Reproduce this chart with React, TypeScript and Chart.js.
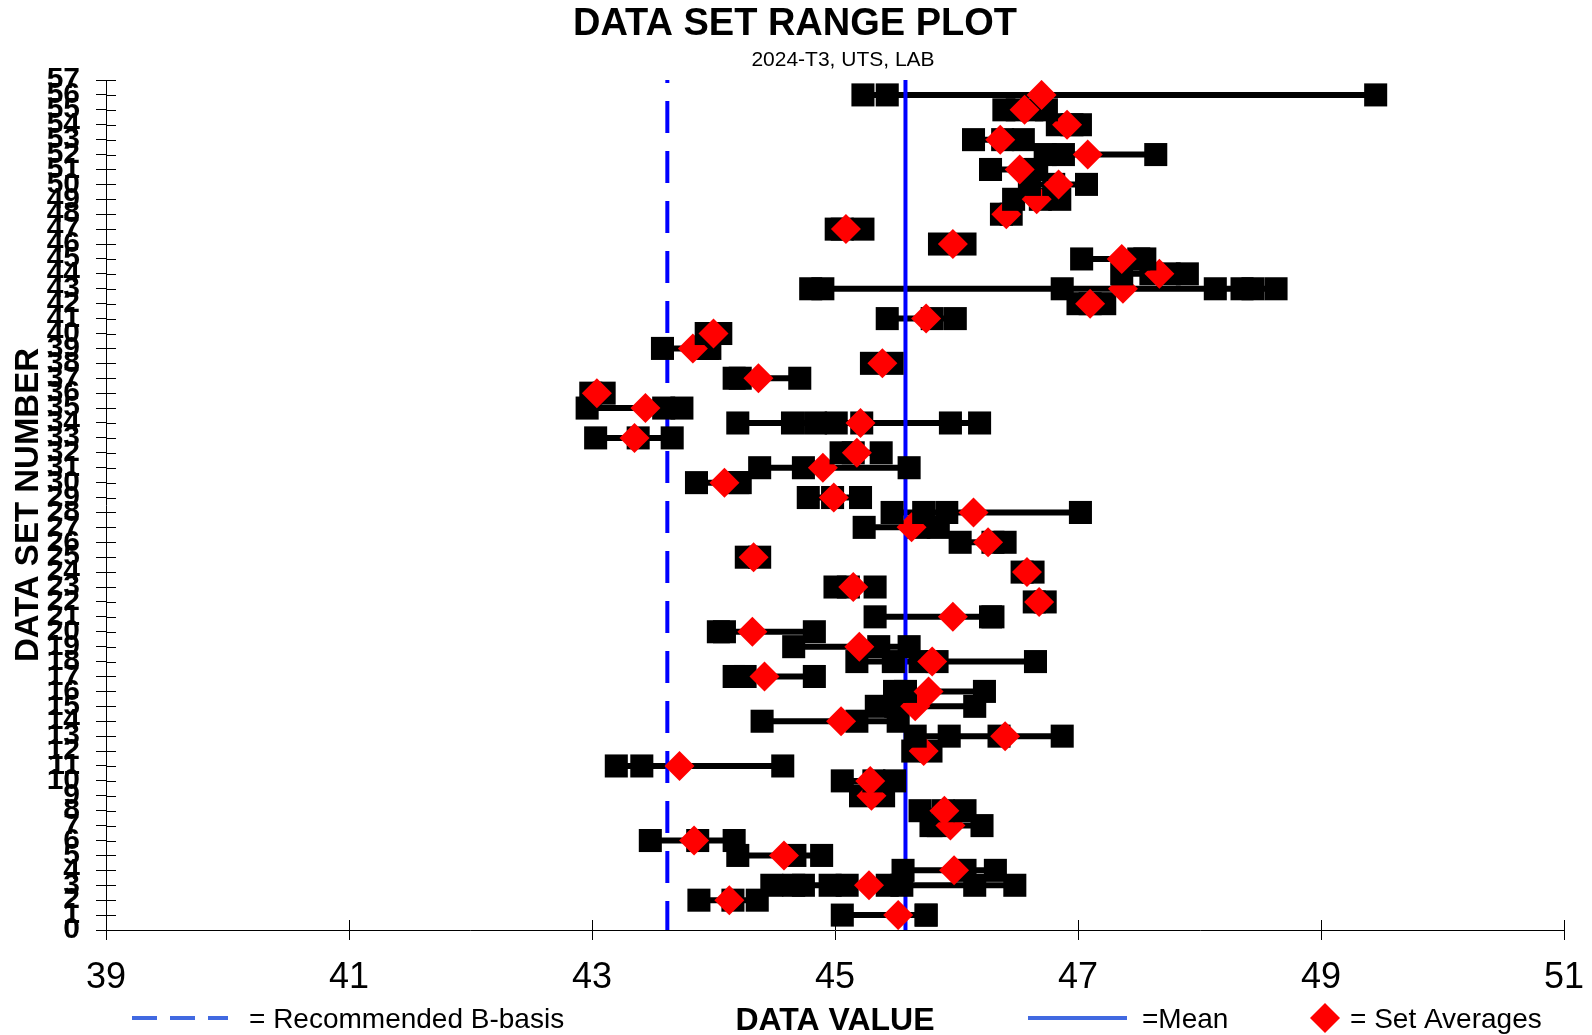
import React, { useEffect, useRef } from 'react';
import { Chart, registerables } from 'chart.js';

Chart.register(...registerables);

const FONT = '"Liberation Sans", Arial, Helvetica, sans-serif';

// Individual values of each data set (set 1 first)
const setValues: number[][] = [
  [45.06, 45.75, 45.75],
  [43.88, 44.16, 44.36],
  [44.48, 44.66, 44.74, 44.96, 45.1, 45.43, 45.55, 46.15, 46.48],
  [45.56, 46.07, 46.32],
  [44.2, 44.67, 44.89],
  [43.48, 43.87, 44.17],
  [45.79, 45.85, 46.21],
  [45.7, 45.89, 46.07],
  [45.21, 45.4],
  [45.06, 45.32, 45.49],
  [43.2, 43.41, 44.57],
  [45.64, 45.79],
  [45.66, 45.94, 46.35, 46.87],
  [44.4, 45.18, 45.52],
  [45.34, 45.5, 46.15],
  [45.49, 45.58, 46.23],
  [44.17, 44.26, 44.83],
  [45.18, 45.48, 45.7, 45.84, 46.65],
  [44.66, 45.36, 45.61],
  [44.04, 44.09, 44.83],
  [45.33, 46.28, 46.3],
  [46.64, 46.73],
  [45.0, 45.11, 45.33],
  [46.54, 46.63],
  [44.27, 44.38],
  [46.03, 46.3, 46.4],
  [45.24, 45.69, 45.85],
  [45.47, 45.73, 45.92, 47.02],
  [44.78, 44.98, 45.21],
  [43.86, 44.2, 44.22],
  [44.38, 44.74, 45.61],
  [45.05, 45.15, 45.38],
  [43.03, 43.38, 43.66],
  [44.2, 44.65, 44.84, 45.01, 45.22, 45.95, 46.19],
  [42.96, 43.59, 43.74],
  [42.99, 43.1],
  [44.17, 44.22, 44.71],
  [45.3, 45.47],
  [43.58, 43.95, 43.97],
  [43.94, 44.06],
  [45.43, 45.8, 45.99],
  [47.0, 47.1, 47.22],
  [44.8, 44.9, 46.87, 48.13, 48.35, 48.44, 48.63],
  [47.36, 47.6, 47.75, 47.9],
  [47.03, 47.5, 47.55],
  [45.86, 46.07],
  [45.01, 45.06, 45.23],
  [46.37, 46.45],
  [46.47, 46.69, 46.85],
  [46.6, 46.8, 47.07],
  [46.28, 46.62, 46.66],
  [46.73, 46.88, 47.64],
  [46.14, 46.38, 46.55],
  [46.83, 46.95, 47.02],
  [46.39, 46.5, 46.62, 46.74],
  [45.23, 45.43, 49.45],
];

// Set averages (red diamonds), set 1 first
const setAverages: number[] = [
  45.52, 44.13, 45.28, 45.98, 44.58, 43.84, 45.95, 45.9, 45.3, 45.29,
  43.72, 45.73, 46.4, 45.05, 45.66, 45.77, 44.42, 45.8, 45.2, 44.32,
  45.97, 46.68, 45.15, 46.58, 44.33, 46.26, 45.63, 46.14, 44.99, 44.09,
  44.9, 45.18, 43.35, 45.21, 43.44, 43.04, 44.37, 45.39, 43.83, 44.0,
  45.75, 47.1, 47.37, 47.67, 47.36, 45.97, 45.09, 46.41, 46.66, 46.84,
  46.52, 47.08, 46.36, 46.91, 46.56, 46.7,
];

const meanValue = 45.58;
const bBasisValue = 43.62;
const xTickValues = [39, 41, 43, 45, 47, 49, 51];
const xMin = 39;
const xMax = 51;
const yMin = 0;
const yMax = 57;
const yStep = 1;

const titleText = 'DATA SET RANGE PLOT';
const subtitleText = '2024-T3, UTS, LAB';
const xTitleText = 'DATA VALUE';
const yTitleText = 'DATA SET NUMBER';
const legendBBasis = '= Recommended B-basis';
const legendMean = '=Mean';
const legendAvg = '= Set Averages';

const decorPlugin = {
  id: 'decor',
  afterDraw(chart: any) {
    const { ctx, chartArea, scales } = chart;
    const xs = scales.x;
    const ys = scales.y;
    ctx.save();
    // inward halves of the tick marks
    ctx.strokeStyle = '#000';
    ctx.lineWidth = 1;
    ys.ticks.forEach((t: any) => {
      const y = Math.round(ys.getPixelForValue(t.value)) + 0.5;
      ctx.beginPath();
      ctx.moveTo(chartArea.left, y);
      ctx.lineTo(chartArea.left + 10, y);
      ctx.stroke();
    });
    xs.ticks.forEach((t: any) => {
      const x = Math.round(xs.getPixelForValue(t.value)) + 0.5;
      ctx.beginPath();
      ctx.moveTo(x, chartArea.bottom);
      ctx.lineTo(x, chartArea.bottom - 10);
      ctx.stroke();
    });

    ctx.fillStyle = '#000';
    ctx.textBaseline = 'alphabetic';
    // title
    ctx.textAlign = 'center';
    ctx.font = `bold 38px ${FONT}`;
    ctx.fillText(titleText, 795, 35);
    ctx.font = `21px ${FONT}`;
    ctx.fillText(subtitleText, 843, 66);

    // y title
    ctx.save();
    ctx.translate(38, 505);
    ctx.rotate(-Math.PI / 2);
    ctx.font = `bold 33px ${FONT}`;
    ctx.textAlign = 'center';
    ctx.fillText(yTitleText, 0, 0);
    ctx.restore();

    // x title
    ctx.font = `bold 32px ${FONT}`;
    ctx.textAlign = 'center';
    ctx.fillText(xTitleText, 835, 1030);

    // legend
    const ly = 1018;
    ctx.strokeStyle = '#4169E1';
    ctx.lineWidth = 4;
    ctx.setLineDash([25, 13]);
    ctx.beginPath();
    ctx.moveTo(132, ly);
    ctx.lineTo(228, ly);
    ctx.stroke();
    ctx.setLineDash([]);
    ctx.beginPath();
    ctx.moveTo(1028, ly);
    ctx.lineTo(1127, ly);
    ctx.stroke();
    // diamond
    ctx.fillStyle = '#FF0000';
    ctx.beginPath();
    ctx.moveTo(1325, ly - 15);
    ctx.lineTo(1340, ly);
    ctx.lineTo(1325, ly + 15);
    ctx.lineTo(1310, ly);
    ctx.closePath();
    ctx.fill();

    ctx.fillStyle = '#000';
    ctx.font = `28px ${FONT}`;
    ctx.textAlign = 'left';
    ctx.fillText(legendBBasis, 249, 1028);
    ctx.fillText(legendMean, 1142, 1028);
    ctx.fillText(legendAvg, 1350, 1028);
    ctx.restore();
  },
};

export default function App() {
  const canvasRef = useRef<HTMLCanvasElement | null>(null);

  useEffect(() => {
    if (!canvasRef.current) return;
    const datasets: any[] = [];
    // range lines (drawn at the bottom)
    setValues.forEach((vals, i) => {
      const n = i + 1;
      datasets.push({
        data: [
          { x: Math.min(...vals), y: n },
          { x: Math.max(...vals), y: n },
        ],
        showLine: true,
        borderColor: '#000000',
        borderWidth: 6,
        pointRadius: 0,
        order: 1000,
      });
    });
    // B-basis & mean lines
    datasets.push({
      data: [
        { x: bBasisValue, y: yMax },
        { x: bBasisValue, y: yMin },
      ],
      showLine: true,
      borderColor: '#0000FF',
      borderWidth: 4,
      borderDash: [32, 18],
      borderDashOffset: 29,
      pointRadius: 0,
      order: 999,
    });
    datasets.push({
      data: [
        { x: meanValue, y: yMax },
        { x: meanValue, y: yMin },
      ],
      showLine: true,
      borderColor: '#0000FF',
      borderWidth: 4,
      pointRadius: 0,
      order: 998,
    });
    // markers per set (later sets on top)
    setValues.forEach((vals, i) => {
      const n = i + 1;
      const base = 2 * (setValues.length + 1 - n);
      datasets.push({
        data: vals.map((v) => ({ x: v, y: n })),
        showLine: false,
        pointStyle: 'rect',
        pointRadius: 16.3,
        pointHoverRadius: 16.3,
        backgroundColor: '#000000',
        borderColor: '#000000',
        borderWidth: 0,
        order: base,
      });
      datasets.push({
        data: [{ x: setAverages[i], y: n }],
        showLine: false,
        pointStyle: 'rectRot',
        pointRadius: 15,
        pointHoverRadius: 15,
        backgroundColor: '#FF0000',
        borderColor: '#FF0000',
        borderWidth: 0,
        order: base - 1,
      });
    });

    const chart = new Chart(canvasRef.current, {
      type: 'scatter',
      data: { datasets },
      options: {
        animation: false,
        responsive: true,
        maintainAspectRatio: false,
        devicePixelRatio: 1,
        events: [],
        layout: { padding: { top: 80, left: 0, right: 28, bottom: 0 } },
        plugins: {
          legend: { display: false },
          tooltip: { enabled: false },
          title: { display: false },
        },
        scales: {
          x: {
            type: 'linear',
            min: xMin,
            max: xMax,
            afterBuildTicks: (scale: any) => {
              scale.ticks = xTickValues.map((v) => ({ value: v }));
            },
            afterFit: (scale: any) => {
              scale.height = 105;
              scale.paddingLeft = 0;
              scale.paddingRight = 0;
            },
            ticks: {
              autoSkip: false,
              maxRotation: 0,
              minRotation: 0,
              padding: 16,
              color: '#000',
              font: { family: FONT, size: 36 },
            },
            grid: {
              display: true,
              drawOnChartArea: false,
              drawTicks: true,
              tickLength: 10,
              color: '#000',
            },
            border: { display: true, color: '#000', width: 1 },
          },
          y: {
            type: 'linear',
            min: yMin,
            max: yMax,
            afterFit: (scale: any) => {
              scale.width = 106;
              scale.paddingTop = 0;
              scale.paddingBottom = 0;
            },
            ticks: {
              stepSize: yStep,
              autoSkip: false,
              padding: 16,
              color: '#000',
              font: { family: FONT, size: 30, weight: 'bold' },
            },
            grid: {
              display: true,
              drawOnChartArea: false,
              drawTicks: true,
              tickLength: 10,
              color: '#000',
            },
            border: { display: true, color: '#000', width: 1 },
          },
        },
      } as any,
      plugins: [decorPlugin],
    });
    return () => chart.destroy();
  }, []);

  return (
    <div style={{ position: 'fixed', left: 0, top: 0, width: 1592, height: 1035, background: '#fff' }}>
      <canvas ref={canvasRef} style={{ width: '100%', height: '100%' }} />
    </div>
  );
}
